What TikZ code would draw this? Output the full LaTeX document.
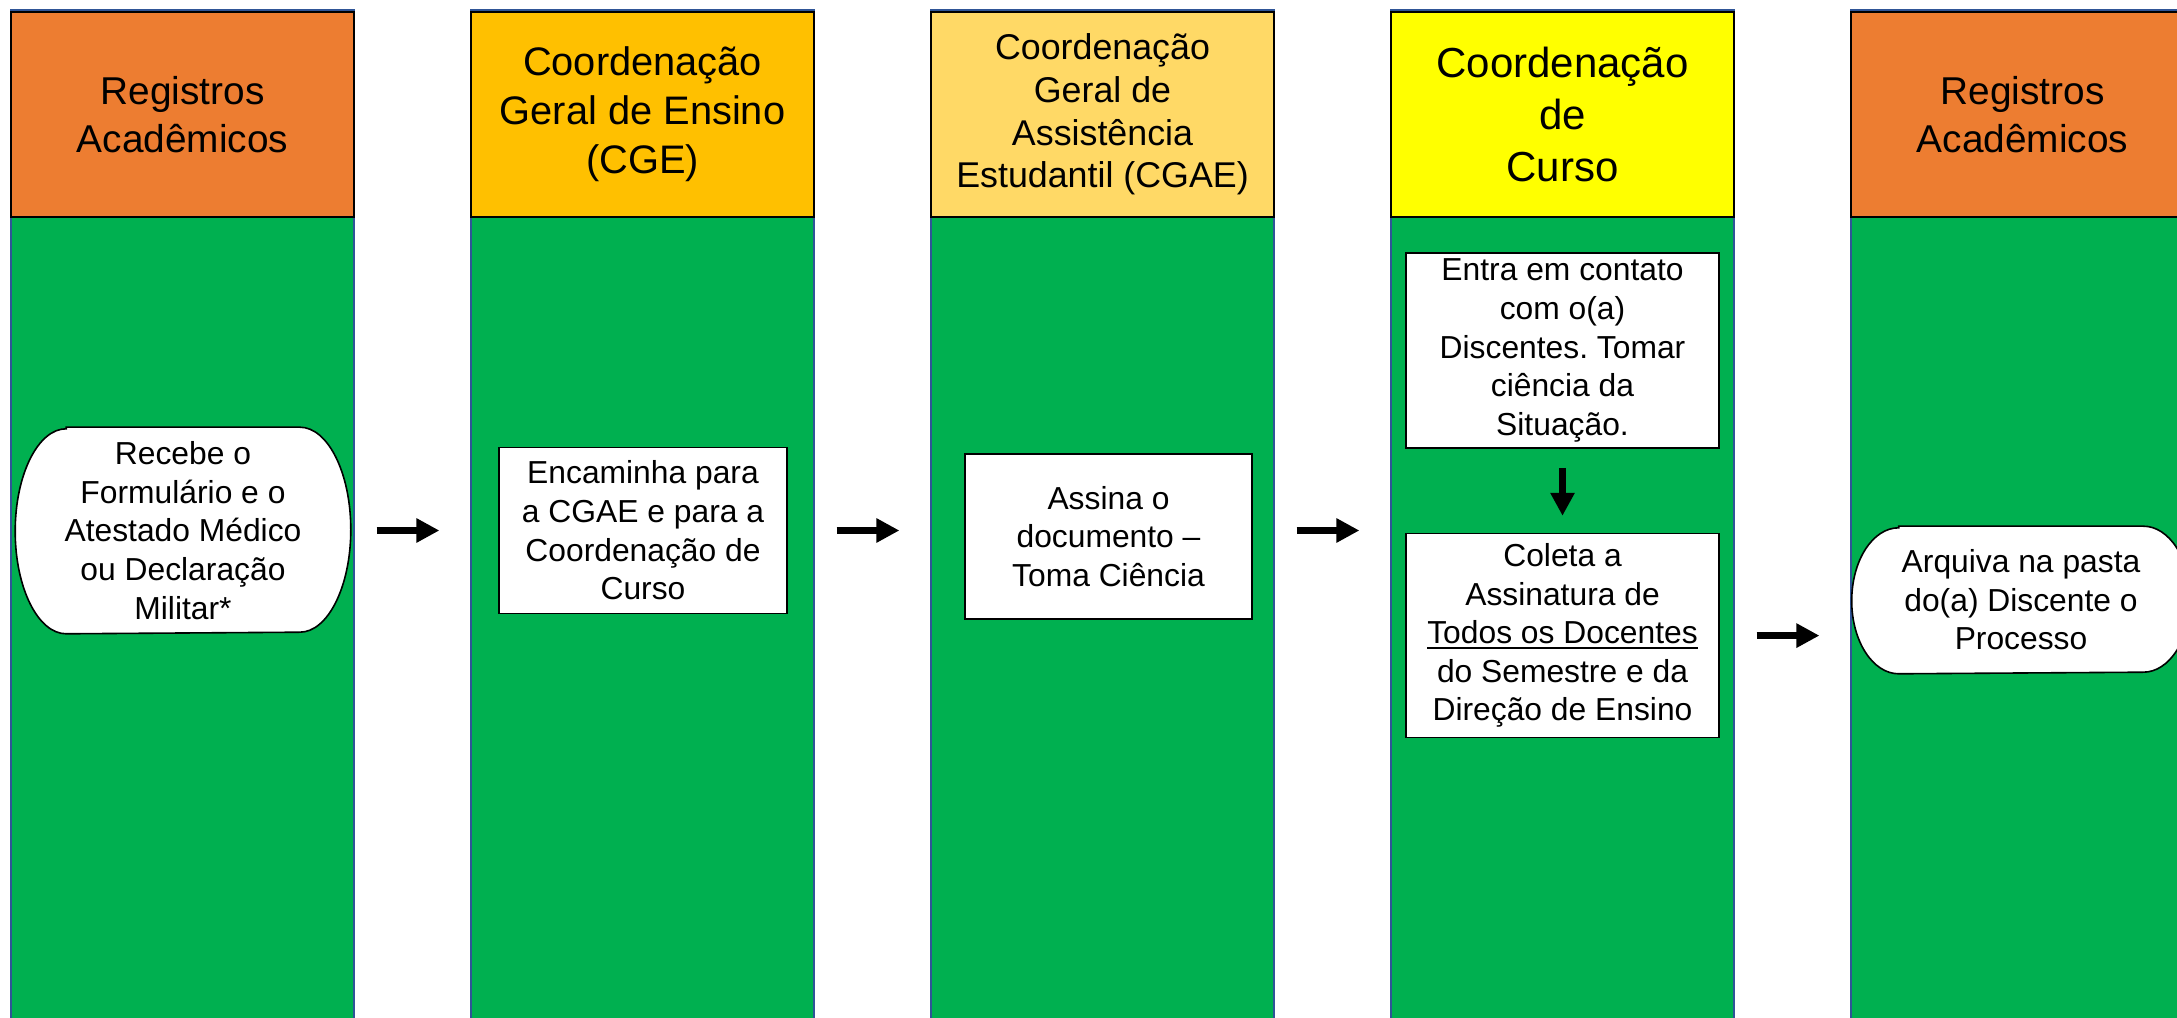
\documentclass[tikz,border=0pt]{standalone}
\usepackage{fontspec}
\setmainfont{Liberation Sans}
\newcommand{\ulin}[1]{\setbox0\hbox{#1}\rlap{\rule[-2.6pt]{\wd0}{0.9pt}}\box0}
\frenchspacing
\usetikzlibrary{positioning,arrows.meta,backgrounds}
\definecolor{hdorange}{HTML}{ED7D31}
\definecolor{hdgold}{HTML}{FFC000}
\definecolor{hdsand}{HTML}{FFD966}
\definecolor{hdyellow}{HTML}{FFFF00}
\definecolor{lanegreen}{HTML}{00B050}
\definecolor{laneblue}{HTML}{2F5597}

\begin{document}
\begin{tikzpicture}[node distance={230pt},
    lane/.style = {draw=laneblue, line width=0.6pt, fill=lanegreen, minimum width=171.5pt, minimum height=510pt, inner sep=0pt},
    head/.style = {draw, line width=1pt, minimum width=171.5pt, minimum height=102.5pt, inner sep=0pt, align=center, font=\fontsize{19.4}{24.2}\selectfont},
    task/.style = {draw, fill=white, line width=0.8pt, inner sep=0pt, align=center, font=\fontsize{15.9}{19.3}\selectfont},
    term/.style = {task, draw=none, fill=none},
    termline/.style = {draw, fill=white, line width=0.8pt},
    flow/.style = {line width=3.5pt, -{Triangle[length=11.5pt,width=11.5pt]}, shorten <=11pt, shorten >=15.5pt}]
        \useasboundingbox (0,0) rectangle (1088.5pt,508.5pt);
        \begin{scope}[on background layer]
        \node[lane] (l1) at (91.25pt,248.5pt) {};
        \node[lane] (l2) [right of=l1] {};
        \node[lane] (l3) [right of=l2] {};
        \node[lane] (l4) [right of=l3] {};
        \node[lane] (l5) [right of=l4] {};
        \end{scope}
        \node[head, fill=hdorange] (h1) at (91.25pt,451.25pt) {Registros\\Acadêmicos};
        \node[head, fill=hdgold, font=\fontsize{19.9}{24.5}\selectfont] (h2) [right of=h1] {Coordenação\\Geral de Ensino\\(CGE)};
        \node[head, fill=hdsand, font=\fontsize{17.9}{21.3}\selectfont] (h3) [right of=h2] {Coordenação\\Geral de\\Assistência\\Estudantil (CGAE)};
        \node[head, fill=hdyellow, font=\fontsize{21}{25.8}\selectfont] (h4) [right of=h3] {Coordenação\\de\\Curso};
        \node[head, fill=hdorange] (h5) [right of=h4] {Registros\\Acadêmicos};
        \node[term, minimum width=167pt, minimum height=102.5pt] (b1) at (91.5pt,243.25pt) {Recebe o\\Formulário e o\\Atestado Médico\\ou Declaração\\Militar*};
        \node[task, minimum width=144pt, minimum height=83pt] (b2) [right of=b1] {Encaminha para\\a CGAE e para a\\Coordenação de\\Curso};
        \node[task, minimum width=143.5pt, minimum height=82.5pt] (b3) at (554.25pt,240.25pt) {Assina o\\documento –\\Toma Ciência};
        \node[task, minimum width=156.5pt, minimum height=97.5pt] (b4) at (781.25pt,333.25pt) {Entra em contato\\com o(a)\\Discentes. Tomar\\ciência da\\Situação.};
        \node[task, minimum width=156.5pt, minimum height=102pt] (b5) [below=42pt of b4] {Coleta a\\Assinatura de\\\ulin{Todos os Docentes}\\do Semestre e da\\Direção de Ensino};
        \node[term, minimum width=168.5pt, minimum height=73pt] (b6) at (1010.5pt,208.5pt) {Arquiva na pasta\\do(a) Discente o\\Processo};
        \begin{scope}[on background layer]
        \draw[termline] ([xshift=25.5pt]b1.north west) -- ([xshift=-25.5pt]b1.north east)
            arc[start angle=90, end angle=-90, x radius=25.5pt, y radius=51.25pt]
            -- ([xshift=25.5pt]b1.south west)
            arc[start angle=270, end angle=90, x radius=25.5pt, y radius=51.25pt] -- cycle;
        \draw[termline] ([xshift=23.5pt]b6.north west) -- ([xshift=-23.5pt]b6.north east)
            arc[start angle=90, end angle=-90, x radius=23.5pt, y radius=36.5pt]
            -- ([xshift=23.5pt]b6.south west)
            arc[start angle=270, end angle=90, x radius=23.5pt, y radius=36.5pt] -- cycle;
        \end{scope}
        \draw[flow] (b1.east -| l1.east) -- (b1.east -| l2.west);
        \draw[flow] (b2.east -| l2.east) -- (b2.east -| l3.west);
        \draw[flow] (b2.east -| l3.east) -- (b2.east -| l4.west);
        \draw[flow] (b5.east -| l4.east) -- (b5.east -| l5.west);
        \draw[flow, shorten <=9.5pt, shorten >=8.5pt] (b4) -- (b5);
    \end{tikzpicture}
\end{document}
